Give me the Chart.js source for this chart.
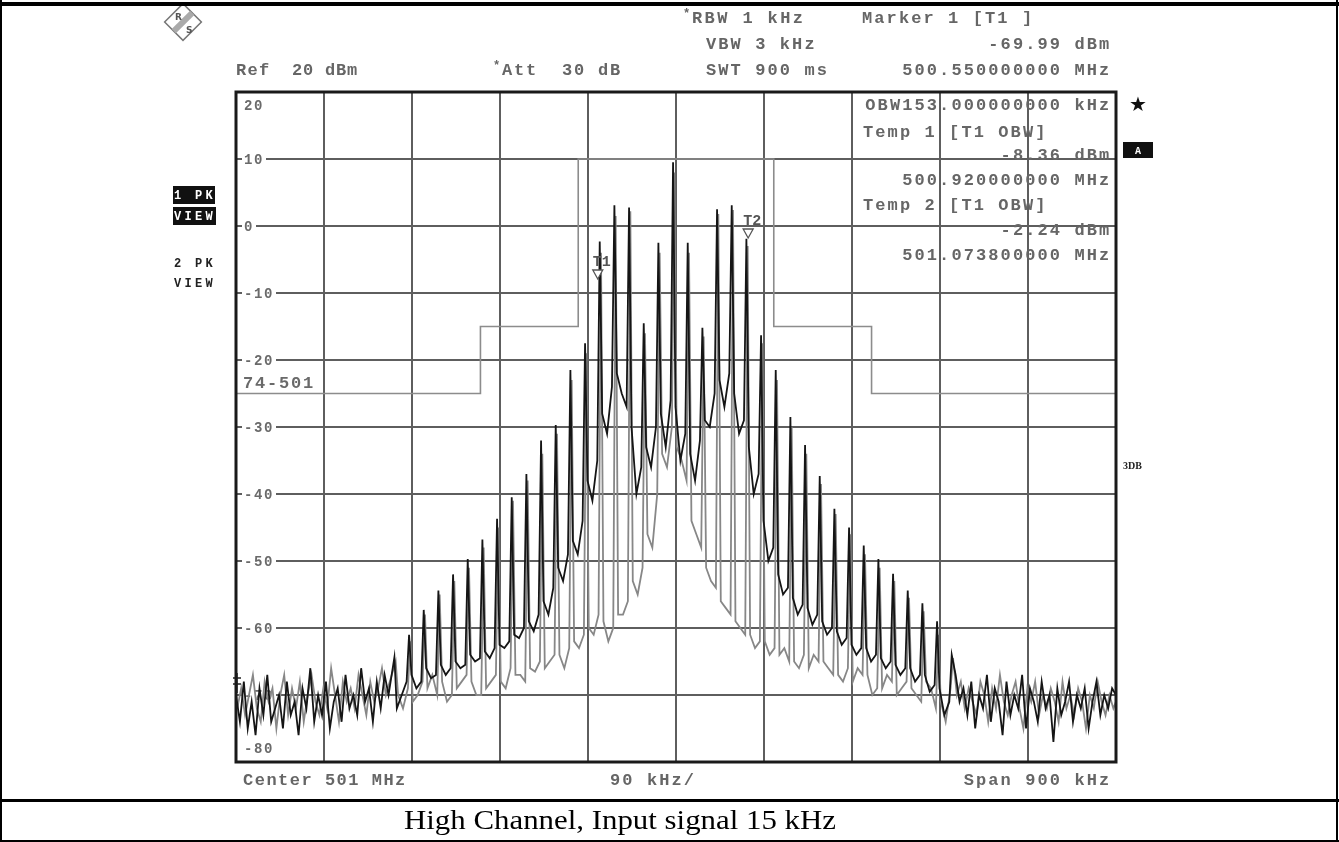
<!DOCTYPE html>
<html>
<head>
<meta charset="utf-8">
<script src="https://cdn.jsdelivr.net/npm/chart.js@4.4.1/dist/chart.umd.min.js"></script>
<style>
html, body { margin: 0; padding: 0; background: #fff; }
#lienzo { display: block; }
</style>
</head>
<body>
<canvas id="lienzo" width="1339" height="842"></canvas>
<script>
// frecuencia en kHz respecto a 501 MHz (lineas del peine cada 15 kHz)
var lineas_khz = [-288,-273,-258,-243,-228,-213,-198,-183,-168,-153,-138,-123,-108,-93,-78,-63,-48,-33,-18,-3,12,27,42,57,72,87,102,117,132,147,162,177,192,207,222,237,252,267,282]
// ruido de los bordes, una muestra cada 4 kHz
var ruido_izq_inicio = -450, ruido_der_inicio = 286, paso_ruido = 4

// traza 1 (negra): pico de cada linea y suelo entre lineas (dBm), tres muestras por hueco
var picos_traza1 = [-64.4,-61,-57.3,-54.4,-52,-49.7,-46.8,-43.7,-40.5,-37,-32,-29.7,-21.5,-17.5,-2.3,3.1,2.75,-14.5,-2.5,9.5,-2.5,-15.2,2.5,3.1,-1.9,-16.3,-21.5,-28.5,-32.7,-37.3,-42.2,-45,-47.7,-49.7,-51.9,-54.4,-56.3,-59,-64]
var suelo1_a = [-72,-67,-66,-65.5,-65,-64,-63.5,-62.5,-61,-59,-56,-51,-47,-38,-28,-22,-30,-33,-28,-27,-34,-29,-23,-25,-33,-44,-52,-55.5,-57,-59,-60.5,-62.5,-63,-64.5,-65.5,-66,-67,-69]
var suelo1_m = [-70,-69,-67.5,-67,-66,-65,-64.5,-63,-61.5,-60.5,-58,-53,-49,-41,-31,-25,-40,-36,-33,-35,-38,-30,-27,-31,-40,-50,-55,-58,-59.5,-61,-62.5,-64,-65,-66,-67,-68,-69.5,-73]
var suelo1_b = [-68,-68,-67,-66,-65.5,-64.5,-63,-62,-60,-58,-54,-49,-44,-35,-24,-27,-36,-30,-26,-31,-32,-25,-22,-29,-37,-48,-54,-56.5,-58,-60,-61.5,-63,-64,-65,-66,-67,-68.5,-71]
var ruido1_izq = [-70,-74,-68,-75,-71,-76,-69,-73,-67,-74,-72,-70,-75,-68,-73,-71,-76,-69,-72,-66,-74,-70,-73,-68,-75,-71,-69,-74,-67,-72,-70,-73,-66,-71,-69,-74,-68,-72,-67,-70]
var ruido1_der = [-67,-71,-69,-73,-68,-75,-70,-72,-67,-74,-69,-71,-76,-68,-73,-70,-72,-67,-75,-69,-71,-74,-68,-72,-70,-77,-69,-73,-71,-68,-74,-70,-72,-69,-75,-71,-68,-73,-70,-72,-69,-70]

// traza 2 (gris)
var picos_traza2 = [-65,-62,-58,-55,-53,-51,-48,-45,-41,-38,-34,-31,-23,-19,-4,1.5,2.2,-16,-4,8,-4,-16.5,1.8,2.4,-3,-17.5,-23,-30,-34,-38.5,-43,-46,-49,-51,-53,-55.5,-57.5,-61,-64.5]
var suelo2_a = [-70,-71,-69,-68,-69,-68,-69,-68,-67,-66,-66,-64,-62,-60,-59,-58,-53,-46,-34,-33,-44,-51,-56,-59,-61,-62,-64,-65,-66,-65,-67,-68,-67,-69,-70,-69,-68,-71]
var suelo2_m = [-72,-70,-67,-71,-68,-70,-68,-69,-67,-66.5,-65,-66,-63,-61,-62,-58,-55,-48,-36,-35,-46,-53,-57,-60,-63,-64,-63,-66,-64,-66,-68,-66,-70,-67,-69,-70,-69,-74]
var suelo2_b = [-69,-68,-70,-70,-67,-70,-67,-66,-68,-65,-64,-63,-61,-58,-60,-56,-51,-40,-30,-38,-48,-54,-58,-61,-62,-63,-65,-64,-65,-67,-66,-67,-69,-68,-68,-71,-72,-69]
var ruido2_izq = [-72,-69,-73,-70,-67,-72,-74,-68,-71,-69,-75,-70,-67,-73,-69,-72,-68,-74,-70,-67,-71,-73,-69,-72,-66,-70,-74,-68,-71,-69,-72,-67,-70,-73,-68,-71,-69,-66,-70,-68]
var ruido2_der = [-70,-68,-72,-69,-71,-73,-68,-70,-74,-69,-72,-67,-71,-73,-70,-68,-72,-75,-69,-71,-68,-73,-70,-72,-69,-71,-74,-68,-72,-70,-73,-69,-71,-75,-70,-72,-68,-71,-73,-70,-72,-71]

// linea limite 74-501
var limite_khz = [-450,-200,-200,-100,-100,100,100,200,200,450]
var limite_db = [-25,-25,-15,-15,10,10,-15,-15,-25,-25]

// marcadores
var marcas_nombre = ['T1','T2']
var marcas_khz = [-80, 73.8]
var marcas_db = [-8.36, -2.24]
var marca1_khz = -450, marca1_db = -69.99

var valores_y = [20,10,0,-10,-20,-30,-40,-50,-60,-70,-80]

function armar_traza(t) {
    var puntos = []
    t.ruido_izq.forEach(function (v, i) {
        puntos.push({x: Math.max(-450, ruido_izq_inicio + i * paso_ruido + t.desplazamiento), y: v})
    })
    for (var i = 0; i < lineas_khz.length; i++) {
        var f = lineas_khz[i] + t.desplazamiento
        puntos.push({x: f, y: t.picos[i]})
        if (i < t.suelo_a.length) {
            puntos.push({x: f + 2.5, y: t.suelo_a[i]})
            puntos.push({x: f + 7.5, y: t.suelo_m[i]})
            puntos.push({x: f + 12.5, y: t.suelo_b[i]})
        }
    }
    t.ruido_der.forEach(function (v, i) {
        puntos.push({x: Math.min(450, ruido_der_inicio + i * paso_ruido + t.desplazamiento), y: v})
    })
    return puntos
}

function escribir(ctx, texto, x, y, paso, derecha, ancho_letra) {
    var inicio = derecha ? x - (texto.length - 1) * paso - (ancho_letra || 10) : x
    for (var i = 0; i < texto.length; i++) ctx.fillText(texto[i], inicio + i * paso, y)
}

var MONO = '"Liberation Mono", "DejaVu Sans Mono", monospace'

var pantalla = {
    id: 'pantalla',
    beforeDatasetsDraw: function (chart) {
        var ctx = chart.ctx, ey = chart.scales.y, area = chart.chartArea
        ctx.save()
        ctx.textBaseline = 'middle'
        ctx.font = 'bold 14px ' + MONO
        valores_y.forEach(function (v, i) {
            var y = ey.getPixelForValue(v)
            var txt = String(v)
            if (i === 0) y += 13
            else if (i === valores_y.length - 1) y -= 14
            else {
                ctx.fillStyle = '#fff'
                ctx.fillRect(area.left + 6, y - 6, txt.length * 10 + 4, 12)
            }
            ctx.fillStyle = '#6a6a6a'
            escribir(ctx, txt, area.left + 8, y + 1, 10)
        })
        // nombre de la linea limite
        ctx.font = 'bold 17px ' + MONO
        ctx.fillStyle = '#6a6a6a'
        escribir(ctx, '74-501', area.left + 7, ey.getPixelForValue(limite_db[0]) - 10, 12)
        ctx.restore()
    },
    afterDatasetsDraw: function (chart) {
        var ctx = chart.ctx, ex = chart.scales.x, ey = chart.scales.y, area = chart.chartArea
        ctx.save()
        // marcadores T1 T2
        ctx.strokeStyle = '#555'
        ctx.fillStyle = '#fff'
        ctx.lineWidth = 1.3
        ctx.font = 'bold 15px ' + MONO
        ctx.textAlign = 'center'
        ctx.textBaseline = 'middle'
        for (var i = 0; i < marcas_nombre.length; i++) {
            var mx = ex.getPixelForValue(marcas_khz[i])
            var my = ey.getPixelForValue(marcas_db[i]) - 3
            ctx.beginPath()
            ctx.moveTo(mx, my)
            ctx.lineTo(mx - 5, my - 9)
            ctx.lineTo(mx + 5, my - 9)
            ctx.closePath()
            ctx.fill()
            ctx.stroke()
            ctx.fillStyle = '#555'
            ctx.fillText(marcas_nombre[i], mx + 4, my - 17)
            ctx.fillStyle = '#fff'
        }
        // marcador 1 en el borde izquierdo
        var m1x = ex.getPixelForValue(marca1_khz), m1y = ey.getPixelForValue(marca1_db)
        ctx.strokeStyle = '#222'
        ctx.lineWidth = 1.5
        ctx.beginPath()
        ctx.moveTo(m1x + 1, m1y - 22); ctx.lineTo(m1x + 1, m1y - 2)
        ctx.moveTo(m1x - 3, m1y - 17); ctx.lineTo(m1x + 5, m1y - 17)
        ctx.moveTo(m1x - 3, m1y - 11); ctx.lineTo(m1x + 5, m1y - 11)
        ctx.stroke()
        // marco
        ctx.strokeStyle = '#1a1a1a'
        ctx.lineWidth = 3
        ctx.strokeRect(area.left, area.top, area.right - area.left, area.bottom - area.top)
        ctx.restore()
    },
    afterDraw: function (chart) {
        var ctx = chart.ctx
        ctx.save()
        ctx.fillStyle = '#666'
        ctx.textBaseline = 'alphabetic'
        ctx.font = 'bold 17px ' + MONO
        // cabecera
        escribir(ctx, 'RBW 1 kHz', 692, 23, 12.6)
        escribir(ctx, 'VBW 3 kHz', 706, 49, 12.3)
        escribir(ctx, 'SWT 900 ms', 706, 75, 12.3)
        escribir(ctx, 'Marker 1 [T1 ]', 862, 23, 12.3)
        escribir(ctx, '-69.99 dBm', 1109, 49, 12.3, true)
        escribir(ctx, '500.550000000 MHz', 1109, 75, 12.3, true)
        escribir(ctx, 'Ref', 236, 75, 11.5)
        escribir(ctx, '20 dBm', 292, 75, 11)
        escribir(ctx, 'Att  30 dB', 502, 75, 12)
        ctx.font = 'bold 12px ' + MONO
        ctx.fillText('*', 493, 69)
        ctx.fillText('*', 683, 17)
        // bloque de marcadores dentro de la reticula
        ctx.font = 'bold 17px ' + MONO
        escribir(ctx, 'OBW153.000000000 kHz', 1109, 110, 12.3, true)
        escribir(ctx, 'Temp 1 [T1 OBW]', 863, 137, 12.3)
        escribir(ctx, '-8.36 dBm', 1109, 160, 12.3, true)
        escribir(ctx, '500.920000000 MHz', 1109, 185, 12.3, true)
        escribir(ctx, 'Temp 2 [T1 OBW]', 863, 210, 12.3)
        escribir(ctx, '-2.24 dBm', 1109, 235, 12.3, true)
        escribir(ctx, '501.073800000 MHz', 1109, 260, 12.3, true)
        // pie
        escribir(ctx, 'Center 501 MHz', 243, 785, 11.7)
        escribir(ctx, '90 kHz/', 610, 785, 12.3)
        escribir(ctx, 'Span 900 kHz', 1109, 785, 12.3, true)
        // indicadores laterales izquierda
        ctx.fillStyle = '#111'
        ctx.fillRect(173, 186, 42, 18)
        ctx.fillRect(173, 207, 43, 18)
        ctx.fillStyle = '#fff'
        ctx.font = 'bold 12px ' + MONO
        escribir(ctx, '1 PK', 174, 199, 10.5)
        escribir(ctx, 'VIEW', 174, 220, 10.5)
        ctx.fillStyle = '#222'
        escribir(ctx, '2 PK', 174, 267, 10.5)
        escribir(ctx, 'VIEW', 174, 287, 10.5)
        // indicadores derecha
        ctx.fillStyle = '#111'
        ctx.font = '20px "DejaVu Sans", sans-serif'
        ctx.fillText('\u2605', 1129, 111)
        ctx.fillRect(1123, 142, 30, 16)
        ctx.fillStyle = '#fff'
        ctx.font = 'bold 10px ' + MONO
        ctx.fillText('A', 1135, 154)
        ctx.fillStyle = '#222'
        ctx.font = 'bold 10px "Liberation Serif", serif'
        ctx.fillText('3DB', 1123, 469)
        // logo R&S
        ctx.save()
        ctx.translate(183, 22)
        ctx.rotate(Math.PI / 4)
        ctx.strokeStyle = '#777'
        ctx.lineWidth = 1.5
        ctx.strokeRect(-13, -13, 26, 26)
        ctx.fillStyle = '#aaa'
        ctx.fillRect(-3, -13, 6, 26)
        ctx.restore()
        ctx.fillStyle = '#555'
        ctx.font = 'bold 9px "DejaVu Sans", sans-serif'
        ctx.fillText('R', 175, 20)
        ctx.fillText('S', 186, 33)
        // marco de la hoja
        ctx.fillStyle = '#000'
        ctx.fillRect(0, 2, 1339, 4)
        ctx.fillRect(0, 0, 2, 842)
        ctx.fillRect(1336, 0, 2, 842)
        ctx.fillRect(0, 799, 1339, 3)
        ctx.fillRect(0, 840, 1339, 2)
        // titulo
        ctx.font = '27px "Liberation Serif", "DejaVu Serif", serif'
        var titulo = 'High Channel, Input signal 15 kHz'
        var escala = 432 / ctx.measureText(titulo).width
        ctx.translate(620, 829)
        ctx.scale(escala, 1)
        ctx.textAlign = 'center'
        ctx.fillText(titulo, 0, 0)
        ctx.restore()
    }
}

var puntos1 = armar_traza({picos: picos_traza1, suelo_a: suelo1_a, suelo_m: suelo1_m, suelo_b: suelo1_b,
    ruido_izq: ruido1_izq, ruido_der: ruido1_der, desplazamiento: 0})
var puntos2 = armar_traza({picos: picos_traza2, suelo_a: suelo2_a, suelo_m: suelo2_m, suelo_b: suelo2_b,
    ruido_izq: ruido2_izq, ruido_der: ruido2_der, desplazamiento: 1.3})
var puntos_limite = limite_khz.map(function (f, i) { return {x: f, y: limite_db[i]} })

var grafica = new Chart(document.getElementById('lienzo'), {
    type: 'line',
    data: {
        datasets: [
            { label: 'Trace 1', data: puntos1, borderColor: '#151515', borderWidth: 1.8, pointRadius: 0, tension: 0 },
            { label: 'Trace 2', data: puntos2, borderColor: '#878787', borderWidth: 1.8, pointRadius: 0, tension: 0 },
            { label: '74-501', data: puntos_limite, borderColor: '#8c8c8c', borderWidth: 1.6, pointRadius: 0, tension: 0 }
        ]
    },
    options: {
        responsive: false,
        devicePixelRatio: 1,
        animation: false,
        events: [],
        layout: { padding: { left: 236, right: 223, top: 92, bottom: 80 } },
        plugins: { legend: { display: false }, tooltip: { enabled: false } },
        scales: {
            x: {
                type: 'linear', min: -450, max: 450,
                ticks: { display: false, stepSize: 90 },
                grid: { color: '#5e5e5e', lineWidth: 2, drawTicks: false },
                border: { display: false }
            },
            y: {
                type: 'linear', min: -80, max: 20,
                ticks: { display: false, stepSize: 10 },
                grid: { color: '#5e5e5e', lineWidth: 2, drawTicks: false },
                border: { display: false }
            }
        }
    },
    plugins: [pantalla]
})
</script>
</body>
</html>
